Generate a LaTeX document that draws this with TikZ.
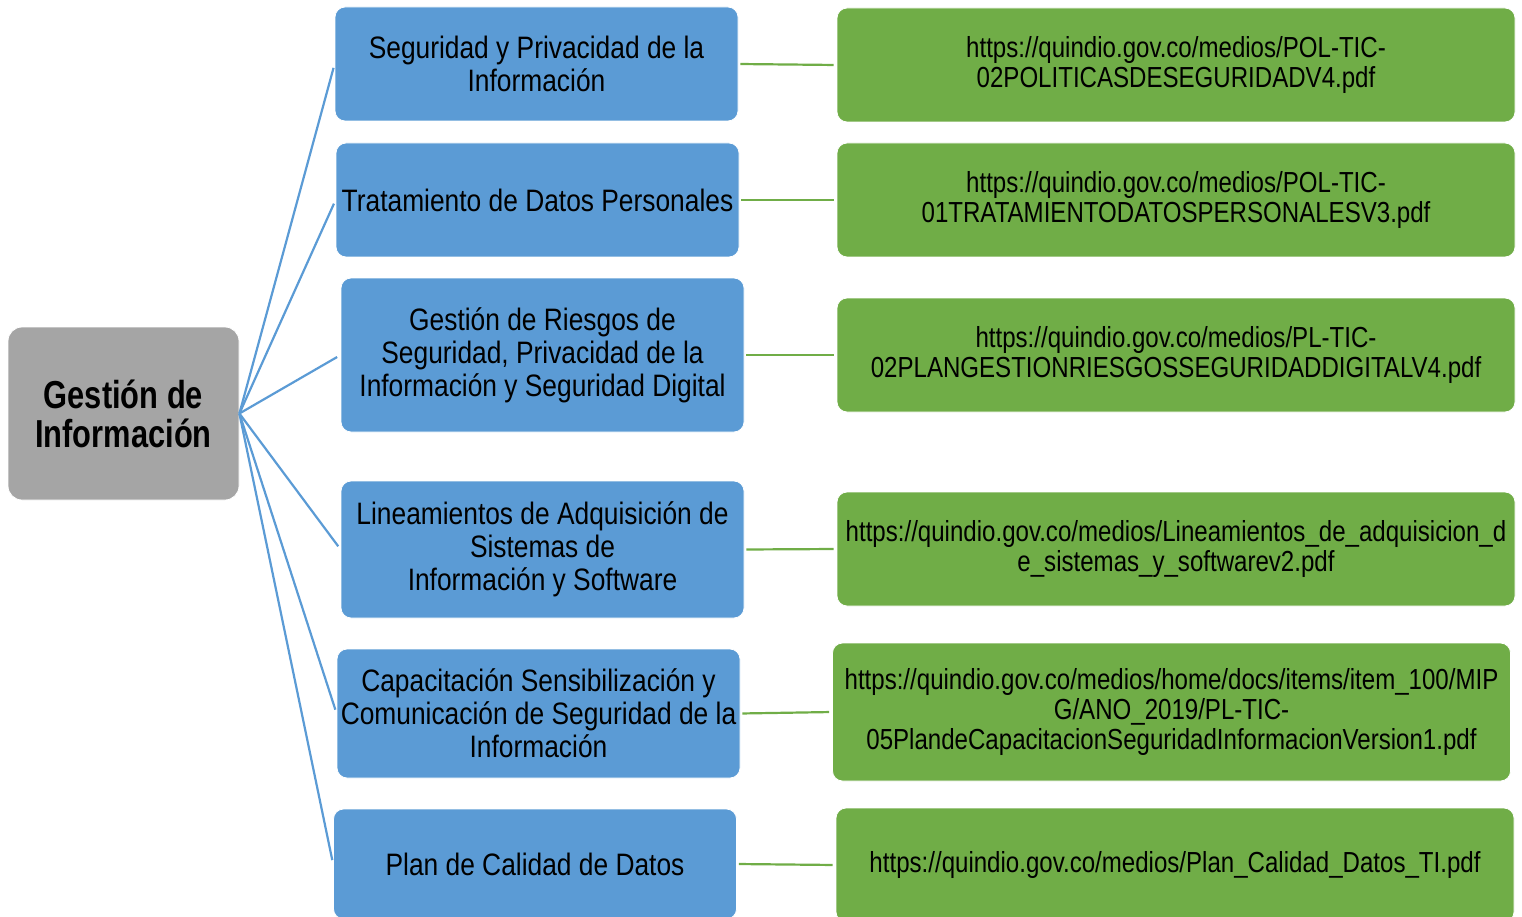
\documentclass[tikz,border=0pt]{standalone}
\usepackage{fontspec}
\setmainfont{Liberation Sans}
\newfontfamily\temafont[FakeStretch=0.85]{Liberation Sans}
\newfontfamily\urlfont[FakeStretch=0.83]{Liberation Sans}
\newfontfamily\raizfont[FakeStretch=0.79]{Liberation Sans}
\usetikzlibrary{positioning,calc}

\definecolor{azulTema}{HTML}{5B9BD5}
\definecolor{verdeUrl}{HTML}{70AD47}
\definecolor{grisRaiz}{HTML}{A5A5A5}

\begin{document}
\begin{tikzpicture}[
  x=1pt,y=-1pt,
  root/.style={draw=white,line width=0.8pt,rounded corners=14pt,fill=grisRaiz,
    minimum width=231pt,minimum height=173pt,align=center,inner sep=0pt,
    font=\raizfont\fontsize{39}{39}\selectfont\bfseries},
  tema/.style={draw=white,line width=0.8pt,rounded corners=10pt,fill=azulTema,
    minimum width=403pt,align=center,inner sep=0pt,
    font={\temafont\fontsize{31}{33}\selectfont\lineskiplimit=-60pt}},
  url/.style={draw=white,line width=0.8pt,rounded corners=10pt,fill=verdeUrl,
    minimum width=678pt,align=center,inner sep=0pt,
    font={\urlfont\fontsize{29}{30}\selectfont\lineskiplimit=-60pt}},
  barc/.style={line width=2.2pt,draw=azulTema,shorten >=4pt},
  garc/.style={line width=2.2pt,draw=verdeUrl,shorten >=3pt,shorten <=2pt},
]
  \useasboundingbox (0,0) rectangle (1522,917);
  \clip (0,0) rectangle (1522,917);

  \node[root] (GI) at (123.5,413.5) {Gestión de\\Información};

  % temas
  \node[tema,minimum height=114pt] (T1) at (536.5,64) {Seguridad y Privacidad de la\\Información};
  \node[tema,minimum height=114pt] (T2) at (537.5,200) {Tratamiento de Datos Personales};
  \node[tema,minimum height=154pt] (T3) at (542.5,355) {Gestión de Riesgos de\\Seguridad, Privacidad de la\\Información y Seguridad Digital};
  \node[tema,minimum height=137pt] (T4) at (542.5,549.5) {Lineamientos de Adquisición de\\Sistemas de\\Información y Software};
  \node[tema,minimum height=129pt] (T5) at (538.5,713.5) {Capacitación Sensibilización y\\Comunicación de Seguridad de la\\Información};
  \node[tema,minimum height=110pt] (T6) at (535,864) {Plan de Calidad de Datos};

  % enlaces
  \node[url,minimum height=114pt] (U1) at (1176,65) {https://quindio.gov.co/medios/POL-TIC-\\02POLITICASDESEGURIDADV4.pdf};
  \node[url,minimum height=114pt] (U2) at (1176,200) {https://quindio.gov.co/medios/POL-TIC-\\01TRATAMIENTODATOSPERSONALESV3.pdf};
  \node[url,minimum height=114pt] (U3) at (1176,355) {https://quindio.gov.co/medios/PL-TIC-\\02PLANGESTIONRIESGOSSEGURIDADDIGITALV4.pdf};
  \node[url,minimum height=114pt] (U4) at (1176,549) {https://quindio.gov.co/medios/Lineamientos\_de\_adquisicion\_d\\e\_sistemas\_y\_softwarev2.pdf};
  \node[url,minimum height=138pt] (U5) at (1171.5,712) {https://quindio.gov.co/medios/home/docs/items/item\_100/MIP\\G/ANO\_2019/PL-TIC-\\05PlandeCapacitacionSeguridadInformacionVersion1.pdf};
  \node[url,minimum height=114pt] (U6) at (1175,865) {https://quindio.gov.co/medios/Plan\_Calidad\_Datos\_TI.pdf};

  % ramas azules
  \foreach \t in {T1,T2,T3,T4,T5,T6}
    \draw[barc] (GI.east) -- (\t.west);

  % ramas verdes
  \foreach \i in {1,...,6}
    \draw[garc] (T\i.east) -- (U\i.west);
\end{tikzpicture}
\end{document}
